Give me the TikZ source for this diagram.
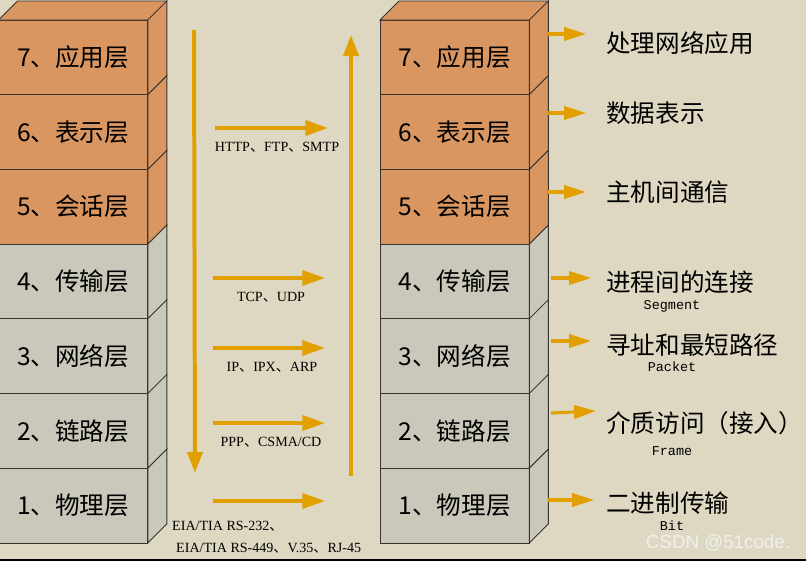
\documentclass[tikz,border=0pt]{standalone}
\usepackage{fontspec}
\setmainfont{Liberation Serif}
\setmonofont{Liberation Mono}
\newfontfamily\cjk{Noto Sans CJK SC}
\newfontfamily\wmfont{Liberation Sans}
\usepackage{tikz}
\usetikzlibrary{positioning, arrows.meta, calc}
\definecolor{upper}{RGB}{217,150,97}
\definecolor{lower}{RGB}{202,200,187}
\definecolor{bgcol}{RGB}{222,215,193}
\definecolor{flowcol}{RGB}{226,160,0}
\definecolor{edgecol}{RGB}{55,52,48}

\begin{document}
\begin{tikzpicture}[
        x=0.03cm, y=-0.03cm,
        % Styles for the layer boxes
        layer/.style={
            rectangle, draw=edgecol, line width=0.7pt, fill=#1,
            minimum width=4.48cm, minimum height=2.241cm,
            inner sep=0pt, outer sep=0pt,
            font=\cjk\fontsize{21}{21}\selectfont
        },
        side/.style={
            draw=edgecol, line width=0.7pt, fill=#1
        },
        % Styles for the arrows
        vflow/.style={
            draw=flowcol, line width=3.4pt,
            -{Triangle[length=0.63cm, width=0.45cm]}
        },
        hflow/.style={
            draw=flowcol, line width=3pt,
            -{Triangle[length=0.68cm, width=0.45cm]}
        },
        outflow/.style={
            draw=flowcol, line width=2.6pt,
            -{Triangle[length=0.66cm, width=0.4cm]}
        },
        % Styles for the texts
        proto/.style={
            inner sep=0pt, font=\fontsize{12}{13}\selectfont
        },
        desc/.style={
            anchor=west, inner sep=0pt,
            font=\cjk\fontsize{21}{21}\selectfont
        },
        pdu/.style={
            inner sep=0pt, font=\ttfamily\fontsize{11.5}{11.5}\selectfont
        }
    ]

    % 0. BACKGROUND
    \fill[bgcol] (0,0) rectangle (806,561);
    \useasboundingbox (0,0) rectangle (806,561);
    \clip (0,0) rectangle (806,561);

    % 1. LEFT STACK
    \node[layer=upper, anchor=north west] (L7) at (-1.5,20) {7、应用层};
    \node[layer=upper, below=0pt of L7] (L6) {6、表示层};
    \node[layer=upper, below=0pt of L6] (L5) {5、会话层};
    \node[layer=lower, below=0pt of L5] (L4) {4、传输层};
    \node[layer=lower, below=0pt of L4] (L3) {3、网络层};
    \node[layer=lower, below=0pt of L3] (L2) {2、链路层};
    \node[layer=lower, below=0pt of L2] (L1) {1、物理层};

    \draw[side=upper] (L7.north west) -- ++(19,-19) -- ($(L7.north east)+(19,-19)$) -- (L7.north east) -- cycle;
    \draw[side=upper] (L7.north east) -- ++(19,-19) -- ($(L7.south east)+(19,-19)$) -- (L7.south east) -- cycle;
    \draw[side=upper] (L6.north east) -- ++(19,-19) -- ($(L6.south east)+(19,-19)$) -- (L6.south east) -- cycle;
    \draw[side=upper] (L5.north east) -- ++(19,-19) -- ($(L5.south east)+(19,-19)$) -- (L5.south east) -- cycle;
    \draw[side=lower] (L4.north east) -- ++(19,-19) -- ($(L4.south east)+(19,-19)$) -- (L4.south east) -- cycle;
    \draw[side=lower] (L3.north east) -- ++(19,-19) -- ($(L3.south east)+(19,-19)$) -- (L3.south east) -- cycle;
    \draw[side=lower] (L2.north east) -- ++(19,-19) -- ($(L2.south east)+(19,-19)$) -- (L2.south east) -- cycle;
    \draw[side=lower] (L1.north east) -- ++(19,-19) -- ($(L1.south east)+(19,-19)$) -- (L1.south east) -- cycle;

    % 2. RIGHT STACK
    \node[layer=upper, anchor=north west] (R7) at (380,20) {7、应用层};
    \node[layer=upper, below=0pt of R7] (R6) {6、表示层};
    \node[layer=upper, below=0pt of R6] (R5) {5、会话层};
    \node[layer=lower, below=0pt of R5] (R4) {4、传输层};
    \node[layer=lower, below=0pt of R4] (R3) {3、网络层};
    \node[layer=lower, below=0pt of R3] (R2) {2、链路层};
    \node[layer=lower, below=0pt of R2] (R1) {1、物理层};

    \draw[side=upper] (R7.north west) -- ++(19,-19) -- ($(R7.north east)+(19,-19)$) -- (R7.north east) -- cycle;
    \draw[side=upper] (R7.north east) -- ++(19,-19) -- ($(R7.south east)+(19,-19)$) -- (R7.south east) -- cycle;
    \draw[side=upper] (R6.north east) -- ++(19,-19) -- ($(R6.south east)+(19,-19)$) -- (R6.south east) -- cycle;
    \draw[side=upper] (R5.north east) -- ++(19,-19) -- ($(R5.south east)+(19,-19)$) -- (R5.south east) -- cycle;
    \draw[side=lower] (R4.north east) -- ++(19,-19) -- ($(R4.south east)+(19,-19)$) -- (R4.south east) -- cycle;
    \draw[side=lower] (R3.north east) -- ++(19,-19) -- ($(R3.south east)+(19,-19)$) -- (R3.south east) -- cycle;
    \draw[side=lower] (R2.north east) -- ++(19,-19) -- ($(R2.south east)+(19,-19)$) -- (R2.south east) -- cycle;
    \draw[side=lower] (R1.north east) -- ++(19,-19) -- ($(R1.south east)+(19,-19)$) -- (R1.south east) -- cycle;

    % 3. DOWN / UP FLOW BETWEEN THE STACKS
    \coordinate (down_s) at (194,30);
    \coordinate (down_e) at (195,473);
    \coordinate (up_s)   at (351,476);
    \coordinate (up_e)   at (351,35);
    \draw[vflow] (down_s) -- (down_e);
    \draw[vflow] (up_s) -- (up_e);

    % 4. PROTOCOL ARROWS AND LABELS
    \coordinate (a7_s) at (215,128); \coordinate (a7_e) at (328,128);
    \coordinate (a4_s) at (213,278); \coordinate (a4_e) at (325,278);
    \coordinate (a3_s) at (213,348); \coordinate (a3_e) at (325,348);
    \coordinate (a2_s) at (213,423); \coordinate (a2_e) at (325,423);
    \coordinate (a1_s) at (213,501); \coordinate (a1_e) at (325,501);

    \draw[hflow] (a7_s) -- (a7_e);
    \draw[hflow] (a4_s) -- (a4_e);
    \draw[hflow] (a3_s) -- (a3_e);
    \draw[hflow] (a2_s) -- (a2_e);
    \draw[hflow] (a1_s) -- (a1_e);

    \node[proto] (p7) at (277,147) {HTTP{\cjk 、}FTP{\cjk 、}SMTP};
    \node[proto] (p4) at (271,297) {TCP{\cjk 、}UDP};
    \node[proto] (p3) at (272,367) {IP{\cjk 、}IPX{\cjk 、}ARP};
    \node[proto] (p2) at (271,442) {PPP{\cjk 、}CSMA/CD};
    \node[proto, anchor=west] (p1a) at (172,526) {EIA/TIA RS-232{\cjk 、}};
    \node[proto, anchor=west] (p1b) at (176,548) {EIA/TIA RS-449{\cjk 、}V.35{\cjk 、}RJ-45};

    % 5. FUNCTION OF EACH LAYER
    \coordinate (o7_s) at (548,34);  \coordinate (o7_e) at (586,34);
    \coordinate (o6_s) at (548,113); \coordinate (o6_e) at (586,113);
    \coordinate (o5_s) at (548,192); \coordinate (o5_e) at (586,192);
    \coordinate (o4_s) at (551,278); \coordinate (o4_e) at (591,278);
    \coordinate (o3_s) at (551,341); \coordinate (o3_e) at (591,341);
    \coordinate (o2_s) at (551,413); \coordinate (o2_e) at (596,411);
    \coordinate (o1_s) at (548,500); \coordinate (o1_e) at (594,500);

    \draw[outflow] (o7_s) -- (o7_e);
    \draw[outflow] (o6_s) -- (o6_e);
    \draw[outflow] (o5_s) -- (o5_e);
    \draw[outflow] (o4_s) -- (o4_e);
    \draw[outflow] (o3_s) -- (o3_e);
    \draw[outflow] (o2_s) -- (o2_e);
    \draw[outflow] (o1_s) -- (o1_e);

    \node[desc] (d7) at (606,43)  {处理网络应用};
    \node[desc] (d6) at (606,113) {数据表示};
    \node[desc] (d5) at (606,192) {主机间通信};
    \node[desc] (d4) at (606,282) {进程间的连接};
    \node[desc] (d3) at (606,345) {寻址和最短路径};
    \node[desc] (d2) at (606,423) {介质访问（接入）};
    \node[desc] (d1) at (606,503) {二进制传输};

    \node[pdu] (s4) at (672,306) {Segment};
    \node[pdu] (s3) at (672,367) {Packet};
    \node[pdu] (s2) at (672,451) {Frame};
    \node[pdu] (s1) at (672,526) {Bit};

    % 6. WATERMARK AND BOTTOM EDGE
    \node[text=white!94!black, font=\wmfont\fontsize{16}{16}\selectfont] (mark) at (718,543) {CSDN @51code.};
    \draw[black, line width=1.7pt] (0,560) -- (806,560);

    \end{tikzpicture}
\end{document}
